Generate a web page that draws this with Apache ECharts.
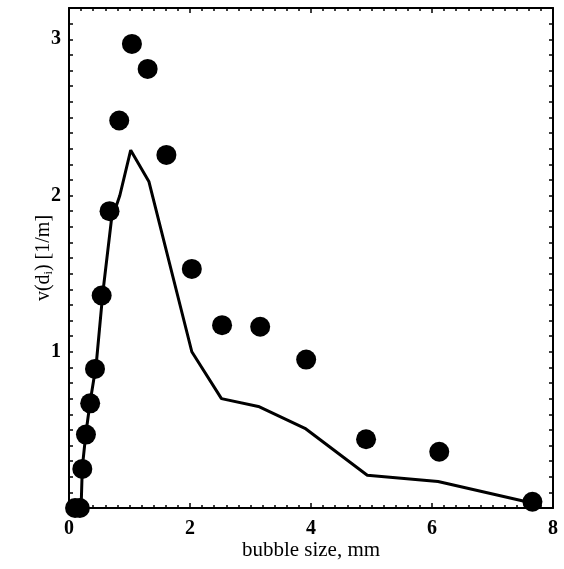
<!DOCTYPE html>
<html>
<head>
    <meta charset="utf-8">
    <script src="https://cdn.jsdelivr.net/npm/echarts@6/dist/echarts.min.js"></script>
</head>
<body style="margin:0;background:#fff;">
<div id="main" style="width:564px;height:569px;"></div>
<script>
    // measured points (dots)
    var dotX = [0.10, 0.18, 0.22, 0.28, 0.35, 0.43, 0.54, 0.67, 0.83, 1.04, 1.30, 1.61, 2.03, 2.53, 3.16, 3.92, 4.91, 6.12, 7.66];
    var dotY = [0.00, 0.00, 0.25, 0.47, 0.67, 0.89, 1.36, 1.90, 2.48, 2.97, 2.81, 2.26, 1.53, 1.17, 1.16, 0.95, 0.44, 0.36, 0.04];
    // model curve
    var lineX = [0.20, 0.22, 0.28, 0.35, 0.45, 0.56, 0.70, 0.84, 1.02, 1.32, 2.03, 2.52, 3.13, 3.90, 4.93, 6.10, 7.67];
    var lineY = [0.00, 0.26, 0.48, 0.68, 0.92, 1.38, 1.84, 2.00, 2.29, 2.09, 1.00, 0.70, 0.65, 0.51, 0.21, 0.17, 0.03];

    var font = 'Liberation Serif';
    var myChart = echarts.init(document.getElementById('main'));

    function pairs(xs, ys) {
        return xs.map(function (x, i) { return [x, ys[i]]; });
    }
    function yLabel(v) {
        var r = Math.round(v);
        return (Math.abs(v - r) < 1e-6 && r > 0) ? String(r) : '';
    }

    var axisLine = { onZero: false, lineStyle: { color: '#000', width: 2 } };
    var xBase = {
        type: 'value', min: 0, max: 8, interval: 2,
        axisLine: axisLine,
        axisTick: { inside: true, length: 5, lineStyle: { color: '#000', width: 1.5 } },
        minorTick: { show: true, splitNumber: 10, length: 3, lineStyle: { color: '#000', width: 1.5 } },
        splitLine: { show: false }
    };
    var yBase = {
        type: 'value', min: 0, max: 3.2, interval: 0.1,
        axisLine: axisLine,
        axisTick: { inside: true, length: 4, interval: 0, lineStyle: { color: '#000', width: 1.5 } },
        splitLine: { show: false }
    };

    var option = {
        animation: false,
        backgroundColor: '#fff',
        grid: { left: 69, right: 11, top: 8, bottom: 61 },
        xAxis: [
            Object.assign({}, xBase, {
                position: 'bottom',
                name: 'bubble size, mm',
                nameLocation: 'middle',
                nameGap: 32,
                nameMoveOverlap: false,
                nameTextStyle: { fontFamily: font, fontSize: 21, color: '#000' },
                axisLabel: { fontFamily: font, fontSize: 20, fontWeight: 'bold', color: '#000', margin: 11 }
            }),
            Object.assign({}, xBase, { position: 'top', axisLabel: { show: false } })
        ],
        yAxis: [
            Object.assign({}, yBase, {
                position: 'left',
                name: '{a|v(d}{s|i}{a|) [1/m]}',
                nameLocation: 'middle',
                nameGap: 14,
                nameRotate: 90,
                nameMoveOverlap: false,
                nameTextStyle: {
                    rich: {
                        a: { fontFamily: font, fontSize: 20, color: '#000', lineHeight: 22 },
                        s: { fontFamily: font, fontSize: 12, color: '#000', lineHeight: 12, verticalAlign: 'bottom' }
                    }
                },
                axisLabel: { fontFamily: font, fontSize: 20, fontWeight: 'bold', color: '#000', margin: 8, interval: 0, formatter: yLabel }
            }),
            Object.assign({}, yBase, { position: 'right', axisLabel: { show: false } })
        ],
        series: [
            {
                type: 'line',
                data: pairs(lineX, lineY),
                showSymbol: false,
                symbol: 'none',
                lineStyle: { color: '#000', width: 3 },
                z: 2
            },
            {
                type: 'scatter',
                data: pairs(dotX, dotY),
                symbolSize: 20,
                itemStyle: { color: '#000', opacity: 1 },
                z: 3
            }
        ]
    };
    myChart.setOption(option);
</script>
</body>
</html>
